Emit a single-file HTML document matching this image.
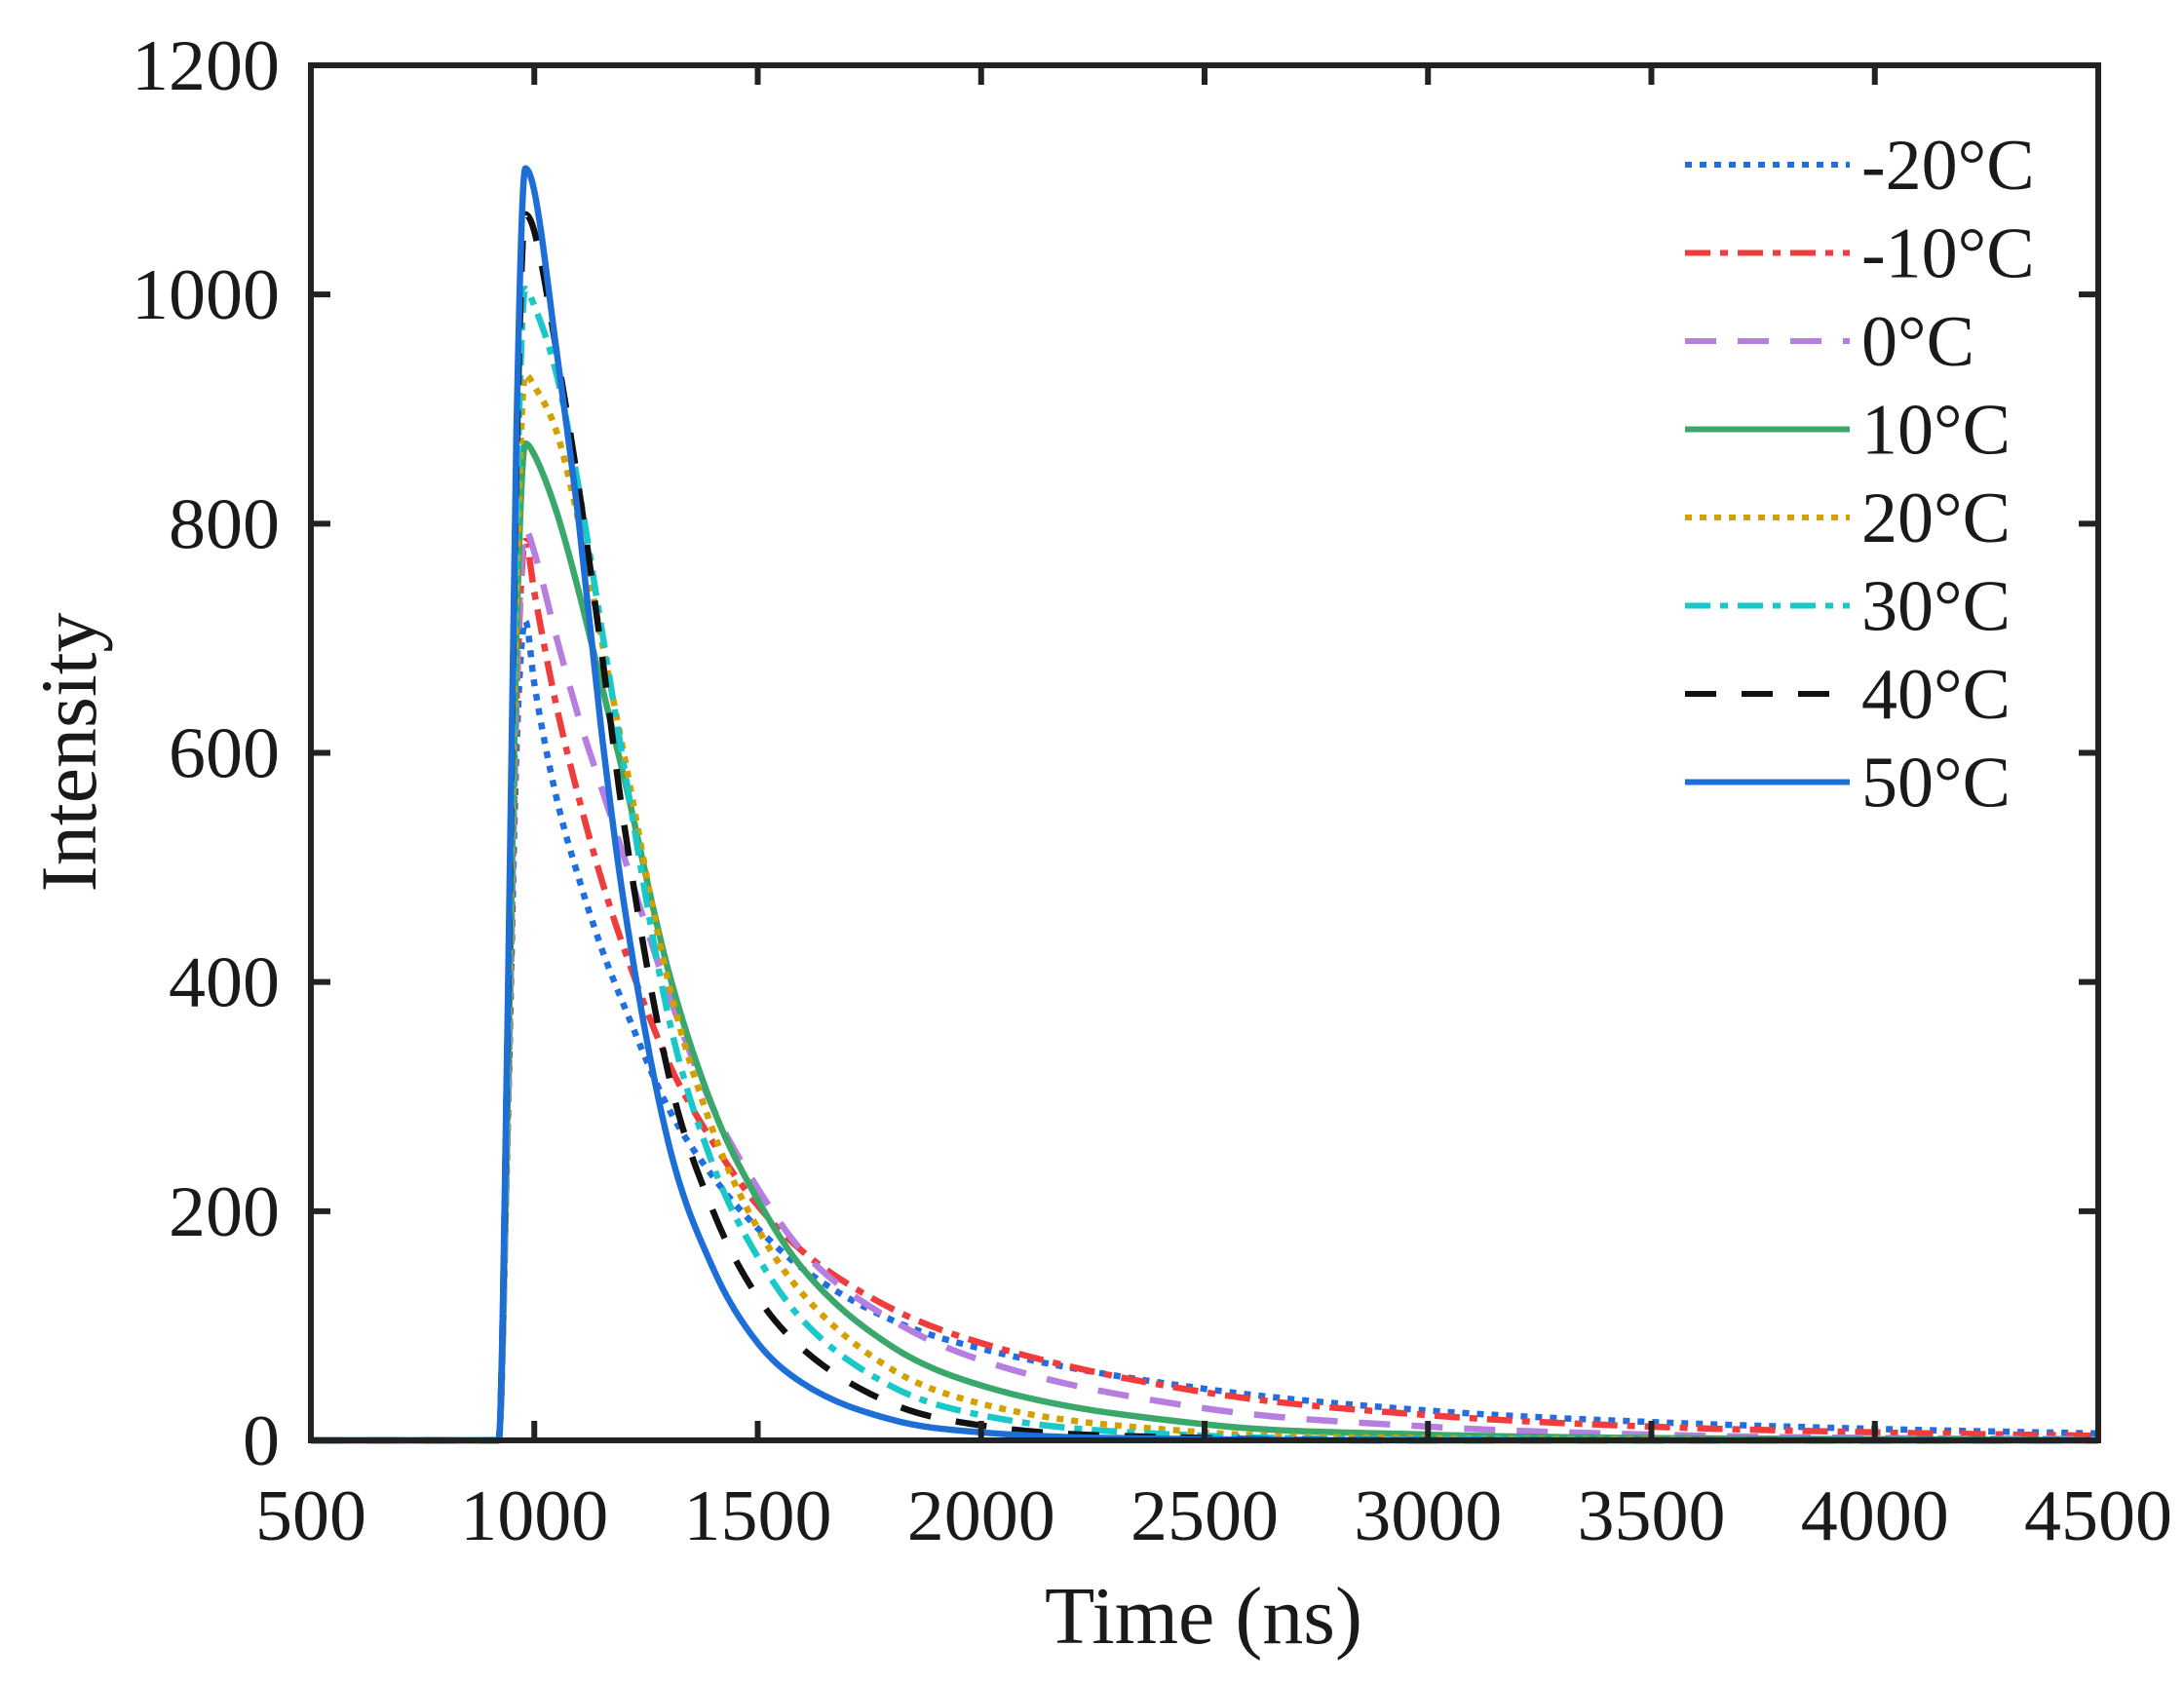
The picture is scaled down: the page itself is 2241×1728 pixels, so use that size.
<!DOCTYPE html>
<html><head><meta charset="utf-8"><style>
html,body{margin:0;padding:0;background:#fff}
svg{display:block}
text{font-family:"Liberation Serif",serif;fill:#1a1a1a}
</style></head><body>
<svg id="chart" width="2241" height="1728" viewBox="0 0 2241 1728">
<g id="plot"></g>
<g id="axes"></g>
<g id="legend"></g>
<text x="1235" y="1686" font-size="84" text-anchor="middle">Time (ns)</text>
<text transform="translate(98,772) rotate(-90)" font-size="82" text-anchor="middle">Intensity</text>
</svg>
<script>
const xTicks=[500,1000,1500,2000,2500,3000,3500,4000,4500];
const yTicks=[0,200,400,600,800,1000,1200];
const times=[500,920,940,960,980,1000,1050,1100,1150,1200,1300,1400,1500,1600,1800,2000,2500,3000,3500,4000,4500];
const seriesNames=["-20°C","-10°C","0°C","10°C","20°C","30°C","40°C","50°C"];
const sM20=[0,0,260,600,715,660,560,490,430,380,290,230,185,150,105,80,45,26,16,10,6];
const sM10=[0,0,270,640,785,740,640,560,490,430,330,260,205,165,115,85,42,22,12,7,4];
const s0=[0,0,270,650,795,775,700,630,570,510,390,290,220,165,105,70,28,12,5,2,1];
const s10=[0,0,290,700,870,860,810,740,660,580,410,290,210,150,82,48,14,5,2,1,0];
const s20=[0,0,310,740,930,920,880,800,700,600,400,270,185,128,62,32,7,2,1,0,0];
const s30=[0,0,330,800,1005,990,930,830,710,590,370,240,160,105,47,22,4,1,0,0,0];
const s40=[0,0,350,850,1070,1055,950,830,690,540,320,200,125,80,32,13,2,0,0,0,0];
const s50=[0,0,360,880,1110,1090,950,800,620,470,260,150,85,50,18,7,1,0,0,0,0];
const allSeries=[sM20,sM10,s0,s10,s20,s30,s40,s50];
const colors=["#1f6fe0","#f03c3c","#b57ee0","#3aa86a","#d4a000","#19c8c8","#111111","#1e6ed8"];
const dashes=["7 8","26 10 8 10","32 22","none","7 8","26 10 8 10","32 26","none"];

const L=319,R=2153,T=67,B=1478;
const xs=v=>L+(v-500)/4000*(R-L);
const ys=v=>B-v/1200*(B-T);
const NS="http://www.w3.org/2000/svg";
function mk(tag,attrs,parent){const e=document.createElementNS(NS,tag);for(const k in attrs)e.setAttribute(k,attrs[k]);parent.appendChild(e);return e;}
const plot=document.getElementById('plot'),axes=document.getElementById('axes'),legend=document.getElementById('legend');

// monotone cubic (Fritsch-Carlson) in pixel space
function pathFor(vals){
  const X=times.map(xs),Y=vals.map(ys),n=X.length;
  const d=[],m=new Array(n);
  for(let i=0;i<n-1;i++)d.push((Y[i+1]-Y[i])/(X[i+1]-X[i]));
  m[0]=d[0];m[n-1]=d[n-2];
  for(let i=1;i<n-1;i++){m[i]=(d[i-1]*d[i]<=0)?0:(d[i-1]+d[i])/2;}
  for(let i=0;i<n-1;i++){
    if(d[i]===0){m[i]=0;m[i+1]=0;continue;}
    const a=m[i]/d[i],b=m[i+1]/d[i],s=a*a+b*b;
    if(s>9){const t=3/Math.sqrt(s);m[i]=t*a*d[i];m[i+1]=t*b*d[i];}
  }
  let p="M"+X[0].toFixed(1)+","+Y[0].toFixed(1);
  for(let i=0;i<n-1;i++){
    const h=(X[i+1]-X[i])/3;
    p+=" C"+(X[i]+h).toFixed(1)+","+(Y[i]+m[i]*h).toFixed(1)+" "+(X[i+1]-h).toFixed(1)+","+(Y[i+1]-m[i+1]*h).toFixed(1)+" "+X[i+1].toFixed(1)+","+Y[i+1].toFixed(1);
  }
  return p;
}
allSeries.forEach((vals,i)=>{
  const p=mk('path',{d:pathFor(vals),fill:'none',stroke:colors[i],'stroke-width':6.5,'stroke-dasharray':dashes[i],'stroke-linejoin':'round'},plot);
  
  
});

const fr=mk('rect',{x:L,y:T,width:R-L,height:B-T,fill:'none',stroke:'#222','stroke-width':6},axes);


xTicks.forEach(v=>{
  const x=xs(v);
  const t1=mk('line',{x1:x,y1:B,x2:x,y2:B-20,stroke:'#222','stroke-width':6},axes);
  
  
  const t2=mk('line',{x1:x,y1:T,x2:x,y2:T+20,stroke:'#222','stroke-width':6},axes);
  
  
  const s=String(v);
  const lb=mk('text',{x:x,y:1580,'font-size':74,'text-anchor':'middle',textLength:s.length*38,lengthAdjust:'spacingAndGlyphs'},axes);
  lb.textContent=s;
  
  
});
yTicks.forEach(v=>{
  const y=ys(v);
  const t1=mk('line',{x1:L,y1:y,x2:L+20,y2:y,stroke:'#222','stroke-width':6},axes);
  
  
  const t2=mk('line',{x1:R,y1:y,x2:R-20,y2:y,stroke:'#222','stroke-width':6},axes);
  
  
  const s=String(v);
  const lb=mk('text',{x:287,y:y+25,'font-size':74,'text-anchor':'end',textLength:s.length*38,lengthAdjust:'spacingAndGlyphs'},axes);
  lb.textContent=s;
  
  
});
seriesNames.forEach((n,i)=>{
  const y=169+i*90.5;
  const g=mk('g',{},legend);
  
  
  mk('line',{x1:1729,y1:y,x2:1898,y2:y,stroke:colors[i],'stroke-width':6,'stroke-dasharray':dashes[i]},g);
  const t=mk('text',{x:1910,y:y+25,'font-size':74},g);
  t.textContent=n;
});
</script>
</body></html>
